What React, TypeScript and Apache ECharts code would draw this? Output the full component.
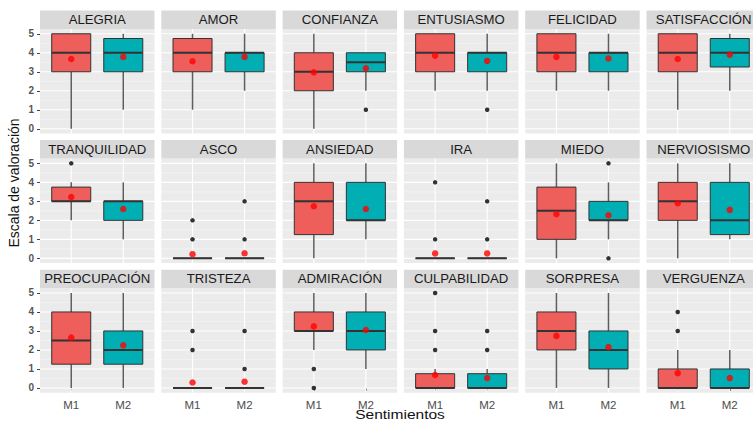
import React, { useEffect, useRef } from 'react';
import * as echarts from 'echarts';

// Facet labels, in reading order (6 per row)
const emotions = [
  'ALEGRIA', 'AMOR', 'CONFIANZA', 'ENTUSIASMO', 'FELICIDAD', 'SATISFACCIÓN',
  'TRANQUILIDAD', 'ASCO', 'ANSIEDAD', 'IRA', 'MIEDO', 'NERVIOSISMO',
  'PREOCUPACIÓN', 'TRISTEZA', 'ADMIRACIÓN', 'CULPABILIDAD', 'SORPRESA', 'VERGUENZA',
];
const groups = ['M1', 'M2'];
const yBreaks = [0, 1, 2, 3, 4, 5];
const yMinorBreaks = [0.5, 1.5, 2.5, 3.5, 4.5];

// [lower whisker, Q1, median, Q3, upper whisker]
const statsM1 = [
  [0, 3, 4, 5, 5], [1, 3, 4, 4.75, 5], [0, 2, 3, 4, 5], [2, 3, 4, 5, 5], [2, 3, 4, 5, 5], [1, 3, 4, 5, 5],
  [2, 3, 3, 3.75, 4], [0, 0, 0, 0, 0], [0, 1.25, 3, 4, 5], [0, 0, 0, 0, 0], [0, 1, 2.5, 3.75, 5], [0, 2, 3, 4, 5],
  [0, 1.25, 2.5, 4, 5], [0, 0, 0, 0, 0], [2, 3, 3, 4, 5], [0, 0, 0, 0.75, 1], [0, 2, 3, 4, 5], [0, 0, 0, 1, 2],
];
const statsM2 = [
  [1, 3, 4, 4.75, 5], [2, 3, 4, 4, 5], [2, 3, 3.5, 4, 4], [2, 3, 4, 4, 5], [2, 3, 4, 4, 5], [2, 3.25, 4, 4.75, 5],
  [1, 2, 3, 3, 4], [0, 0, 0, 0, 0], [1, 2, 2, 4, 5], [0, 0, 0, 0, 0], [1, 2, 2, 3, 4], [1, 1.25, 2, 4, 5],
  [0, 1.25, 2, 3, 5], [0, 0, 0, 0, 0], [1, 2, 3, 4, 5], [0, 0, 0, 0.75, 1], [0, 1, 2, 3, 5], [0, 0, 0, 1, 2],
];

// Group means
const meansM1 = [3.67, 3.55, 2.97, 3.85, 3.78, 3.67, 3.23, 0.22, 2.74, 0.26, 2.33, 2.9, 2.65, 0.29, 3.24, 0.68, 2.74, 0.78];
const meansM2 = [3.78, 3.78, 3.18, 3.57, 3.7, 3.9, 2.6, 0.27, 2.6, 0.26, 2.27, 2.55, 2.25, 0.33, 3.05, 0.52, 2.15, 0.52];

// Outlying answers
const outliersM1 = [
  [], [], [], [], [], [],
  [5], [1, 2], [], [1, 4], [], [],
  [], [2, 3], [1, 0], [2, 3, 5], [], [3, 4],
];
const outliersM2 = [
  [], [], [1], [1], [], [],
  [], [1, 3], [], [1, 3], [0, 5], [],
  [], [1, 3], [], [2, 3], [], [],
];

const NCOL = 6;
const COL0 = 40;
const COL_STEP = 121.3;
const PANEL_W = 114.5;
const ROW0 = 29;
const ROW_STEP = 129.6;
const PANEL_H = 104.5;
const STRIP_H = 18.5;
const FILLS = ['#EE5E5B', '#00AEB4'];
const FONT = '"Liberation Sans", Arial, sans-serif';

function buildOption() {
  const grid: any[] = [];
  const xAxis: any[] = [];
  const yAxis: any[] = [];
  const series: any[] = [];
  const graphic: any[] = [];

  emotions.forEach((name, i) => {
    const r = Math.floor(i / NCOL);
    const c = i % NCOL;
    const left = COL0 + c * COL_STEP;
    const top = ROW0 + r * ROW_STEP;
    const bottomRow = r === 2;
    const leftCol = c === 0;

    grid.push({
      left, top, width: PANEL_W, height: PANEL_H,
      show: true, backgroundColor: '#EBEBEB', borderWidth: 0,
      containLabel: false, outerBoundsMode: 'none',
    });
    xAxis.push({
      gridIndex: i, type: 'value', min: 0.4, max: 2.6,
      splitLine: { show: false }, axisLine: { show: false },
      axisTick: { show: bottomRow, customValues: [1, 2], length: 3, lineStyle: { color: '#444' } },
      axisLabel: {
        show: bottomRow, customValues: [1, 2], margin: 6,
        formatter: (v: number) => groups[Math.round(v) - 1] ?? '',
        fontSize: 11.5, color: '#4D4D4D', fontFamily: FONT,
      },
    });
    yAxis.push({
      gridIndex: i, type: 'value', min: -0.25, max: 5.25,
      splitLine: { show: false }, axisLine: { show: false },
      axisTick: { show: leftCol, customValues: yBreaks, length: 3, lineStyle: { color: '#444' } },
      axisLabel: {
        show: leftCol, customValues: yBreaks, margin: 6,
        formatter: (v: number) => (Number.isInteger(v) ? String(v) : ''),
        fontSize: 10, fontWeight: 'bold', color: '#555', fontFamily: FONT,
      },
    });

    // panel grid lines
    series.push({
      type: 'custom', xAxisIndex: i, yAxisIndex: i, silent: true, z: 1, clip: false,
      data: [[1.5, 2.5]],
      renderItem: (_p: any, api: any) => {
        const children: any[] = [];
        const x0 = api.coord([0.4, 0])[0];
        const x1 = api.coord([2.6, 0])[0];
        yMinorBreaks.forEach((v) => {
          const y = api.coord([1, v])[1];
          children.push({ type: 'line', shape: { x1: x0, y1: y, x2: x1, y2: y }, style: { stroke: '#F7F7F7', lineWidth: 0.6 } });
        });
        yBreaks.forEach((v) => {
          const y = api.coord([1, v])[1];
          children.push({ type: 'line', shape: { x1: x0, y1: y, x2: x1, y2: y }, style: { stroke: '#FFFFFF', lineWidth: 1.1 } });
        });
        groups.forEach((_g, k) => {
          const x = api.coord([k + 1, 0])[0];
          const yt = api.coord([k + 1, 5.25])[1];
          const yb = api.coord([k + 1, -0.25])[1];
          children.push({ type: 'line', shape: { x1: x, y1: yt, x2: x, y2: yb }, style: { stroke: '#FFFFFF', lineWidth: 1.1 } });
        });
        return { type: 'group', children };
      },
    });

    // boxes and whiskers
    series.push({
      type: 'custom', xAxisIndex: i, yAxisIndex: i, z: 2, clip: false,
      encode: { x: 0, y: [1, 2, 3, 4, 5] },
      data: [[1, ...statsM1[i]], [2, ...statsM2[i]]],
      renderItem: (_p: any, api: any) => {
        const x = api.value(0);
        const [lo, q1, med, q3, hi] = [1, 2, 3, 4, 5].map((d) => api.value(d));
        const cx = api.coord([x, med])[0];
        const hw = api.size([0.75, 0])[0] / 2;
        const py = (v: number) => api.coord([x, v])[1];
        const whisker = { stroke: '#5E5E5E', lineWidth: 1.5 };
        return {
          type: 'group',
          children: [
            { type: 'line', shape: { x1: cx, y1: py(hi), x2: cx, y2: py(q3) }, style: whisker },
            { type: 'line', shape: { x1: cx, y1: py(q1), x2: cx, y2: py(lo) }, style: whisker },
            {
              type: 'rect',
              shape: { x: cx - hw, y: py(q3), width: hw * 2, height: py(q1) - py(q3) },
              style: { fill: FILLS[x - 1], stroke: '#333', lineWidth: 1 },
            },
            { type: 'line', shape: { x1: cx - hw, y1: py(med), x2: cx + hw, y2: py(med) }, style: { stroke: '#333', lineWidth: 2 } },
          ],
        };
      },
    });

    // outliers
    const outs: number[][] = [];
    outliersM1[i].forEach((v) => outs.push([1, v]));
    outliersM2[i].forEach((v) => outs.push([2, v]));
    series.push({
      type: 'scatter', xAxisIndex: i, yAxisIndex: i, z: 3, silent: true,
      symbolSize: 4.5, itemStyle: { color: '#000' }, data: outs,
    });

    // means
    series.push({
      type: 'scatter', xAxisIndex: i, yAxisIndex: i, z: 4, silent: true,
      symbolSize: 6.5, itemStyle: { color: '#FF0000' },
      data: [[1, meansM1[i]], [2, meansM2[i]]],
    });

    // facet strip
    graphic.push({
      type: 'rect', silent: true,
      shape: { x: left, y: top - STRIP_H, width: PANEL_W, height: STRIP_H },
      style: { fill: '#D9D9D9' },
    });
    graphic.push({
      type: 'text', silent: true,
      x: left + PANEL_W / 2, y: top - STRIP_H / 2 + 0.5, scaleX: 1.1,
      style: {
        text: name, fill: '#1A1A1A', font: `12px ${FONT}`,
        align: 'center', verticalAlign: 'middle',
      },
    });
  });

  graphic.push({
    type: 'text', silent: true, x: 400, y: 407, scaleX: 1.15,
    style: { text: 'Sentimientos', fill: '#111', font: `13.5px ${FONT}`, align: 'center', verticalAlign: 'top' },
  });
  graphic.push({
    type: 'text', silent: true, x: 14, y: 183, rotation: Math.PI / 2,
    style: { text: 'Escala de valoración', fill: '#111', font: `14px ${FONT}`, align: 'center', verticalAlign: 'middle' },
  });

  return {
    animation: false,
    backgroundColor: '#FFFFFF',
    textStyle: { fontFamily: FONT },
    grid, xAxis, yAxis, series, graphic,
  };
}

export default function App() {
  const ref = useRef<HTMLDivElement>(null);
  useEffect(() => {
    if (!ref.current) return;
    const chart = echarts.init(ref.current, null, { renderer: 'svg' });
    chart.setOption(buildOption());
    return () => chart.dispose();
  }, []);
  return (
    <div
      ref={ref}
      style={{ position: 'fixed', left: 0, top: 0, width: 753, height: 422, overflow: 'hidden', background: '#fff' }}
    />
  );
}
